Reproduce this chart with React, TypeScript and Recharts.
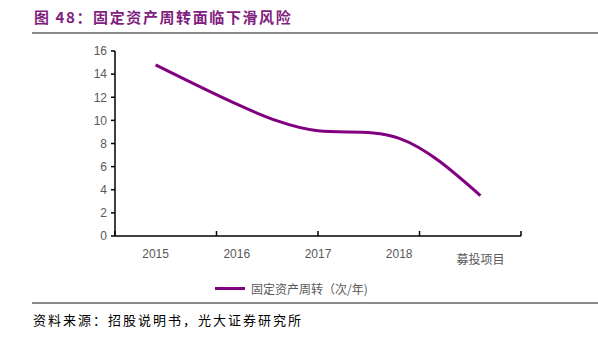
import { Legend, Line, LineChart, XAxis, YAxis } from "recharts";

const categories = ["2015", "2016", "2017", "2018", "募投项目"];
const turnover = [14.8, 11.4, 9.1, 8.45, 3.5];
const yTicks = [0, 2, 4, 6, 8, 10, 12, 14, 16];
const boundaryTicks = [0, 1, 2, 3, 4, 5];

const SERIES_NAME = "固定资产周转（次/年)";
const PURPLE = "#800080";
const GREY_TEXT = "#595959";
const FONT = "'Liberation Sans', Arial, 'Noto Sans CJK SC', sans-serif";
const CJK = "'Noto Sans CJK SC', sans-serif";

const data = categories.map((name, i) => ({ name, value: turnover[i] }));

function CategoryTick({ x, y, payload }: any) {
    const isCjk = /[^\x00-\x7f]/.test(payload.value);
    return (
        <text
            x={x}
            y={y + (isCjk ? 19 : 13)}
            textAnchor="middle"
            fill={GREY_TEXT}
            fontSize={12}
            fontFamily={isCjk ? CJK : FONT}
        >
            {payload.value}
        </text>
    );
}

function NoLabel() {
    return <g />;
}

function LegendContent() {
    return (
        <div style={{ paddingLeft: 215, display: "flex", alignItems: "center", height: 20 }}>
            <span style={{ display: "inline-block", width: 30, height: 3, background: PURPLE }} />
            <span style={{ marginLeft: 6, fontSize: 12, color: GREY_TEXT, fontFamily: CJK }}>{SERIES_NAME}</span>
        </div>
    );
}

export default function App() {
    return (
        <div style={{ position: "absolute", left: 0, top: 0, width: 598, height: 338, background: "#fff" }}>
            <div
                style={{
                    position: "absolute", left: 34, top: 6, fontSize: 15, fontWeight: 700,
                    color: "#7f1f80", fontFamily: CJK, letterSpacing: 1.6, whiteSpace: "nowrap",
                }}
            >
                图 48：固定资产周转面临下滑风险
            </div>
            <div style={{ position: "absolute", left: 32, right: 0, top: 32, height: 2, background: "#8c8c8c" }} />
            <LineChart
                width={598}
                height={338}
                data={data}
                margin={{ top: 51, right: 77, left: 0, bottom: 40 }}
            >
                <XAxis
                    xAxisId="bounds"
                    type="number"
                    domain={[0, 5]}
                    allowDataOverflow
                    ticks={boundaryTicks}
                    tick={<NoLabel />}
                    tickSize={-5}
                    height={1}
                    axisLine={{ stroke: "#000", strokeWidth: 1.5 }}
                    tickLine={{ stroke: "#000", strokeWidth: 1.5 }}
                />
                <XAxis
                    xAxisId="cat"
                    dataKey="name"
                    scale="band"
                    interval={0}
                    axisLine={false}
                    tickLine={false}
                    height={41}
                    tick={<CategoryTick />}
                />
                <YAxis
                    domain={[0, 16]}
                    ticks={yTicks}
                    width={115}
                    tickSize={4}
                    tickMargin={4}
                    axisLine={{ stroke: "#000", strokeWidth: 1.5 }}
                    tickLine={{ stroke: "#000", strokeWidth: 1.5 }}
                    tick={{ fill: GREY_TEXT, fontSize: 12, fontFamily: FONT }}
                />
                <Legend verticalAlign="bottom" height={20} content={<LegendContent />} />
                <Line
                    xAxisId="cat"
                    type="natural"
                    dataKey="value"
                    name={SERIES_NAME}
                    stroke={PURPLE}
                    strokeWidth={3}
                    dot={false}
                    isAnimationActive={false}
                />
            </LineChart>
            <div style={{ position: "absolute", left: 32, right: 0, top: 302, height: 2, background: "#8c8c8c" }} />
            <div
                style={{
                    position: "absolute", left: 33, top: 310, fontSize: 13, color: "#000",
                    fontFamily: "'Noto Sans CJK SC', serif", letterSpacing: 2, whiteSpace: "nowrap",
                }}
            >
                资料来源：招股说明书，光大证券研究所
            </div>
        </div>
    );
}
